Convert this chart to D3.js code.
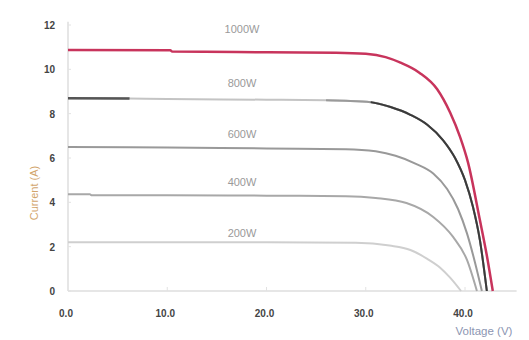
<!DOCTYPE html>
<html>
<head>
<meta charset="utf-8">
<script src="https://cdnjs.cloudflare.com/ajax/libs/d3/7.8.5/d3.min.js"></script>
<style>
  body { margin: 0; background: #fff; }
  .tick-label { font-family: "Liberation Sans Narrow", "Liberation Sans", Arial, sans-serif; font-weight: bold; font-size: 10px; fill: #444; }
  .curve-label { font-family: "Liberation Sans", Arial, sans-serif; font-size: 11px; fill: #9a9a9a; }
</style>
</head>
<body>
<script>
// I-V curves, [voltage, current]
var irradiance = ["1000W", "800W", "600W", "400W", "200W"];

var curve1000 = [[0,10.87],[10.3,10.86],[10.5,10.8],[20,10.77],[27,10.75],[30,10.7],[32,10.55],
  [33.5,10.3],[35.4,9.85],[37.2,9.1],[38.5,8.05],[39.5,6.95],[40.3,5.8],[41.5,3.2],[42.2,1.6],[42.8,0]];
var curve800 = [[0,8.7],[6.2,8.68],[10,8.66],[20,8.63],[26,8.6],[28,8.58],[30.5,8.52],[32.5,8.3],
  [34.5,7.95],[36.2,7.5],[37.8,6.8],[39,6.0],[40,5.0],[40.8,3.8],[41.5,2.3],[42.2,0]];
var curve600 = [[0,6.5],[10,6.47],[20,6.43],[28,6.4],[31,6.3],[33,6.1],[35,5.75],[36.8,5.3],
  [38.2,4.6],[39.3,3.7],[40.2,2.6],[41,1.3],[41.7,0]];
var curve400 = [[0,4.37],[2.2,4.36],[2.4,4.32],[10,4.32],[20,4.3],[28,4.28],[31,4.2],[34.1,3.97],
  [36.8,3.34],[38.8,2.44],[40.2,1.4],[41.2,0]];
var curve200 = [[0,2.2],[10,2.2],[20,2.2],[29,2.18],[32.4,2.05],[34.5,1.85],[36.2,1.45],
  [37.5,1.05],[38.5,0.6],[39.6,0]];

var xTicks = [0, 10, 20, 30, 40];
var yTicks = [0, 2, 4, 6, 8, 10, 12];
// where each curve's label sits (current value)
var labelCurrent = [11.8, 9.4, 7.1, 4.9, 2.6];

window.onload = function(){
  var w = 529;
  var h = 340;

  var x = d3.scaleLinear().domain([0, 40]).range([68, 465]);
  var y = d3.scaleLinear().domain([0, 12]).range([291, 25]);

  var svg = d3.select("body").append("svg")
              .attr("width", w)
              .attr("height", h);

  // axis lines
  svg.append("line")
    .attr("x1", x(0)).attr("x2", x(0))
    .attr("y1", y(12.15)).attr("y2", y(0))
    .attr("stroke", "#dedede").attr("stroke-width", 1.5);
  svg.append("line")
    .attr("x1", x(0)).attr("x2", x(45.2))
    .attr("y1", y(0)).attr("y2", y(0))
    .attr("stroke", "#dedede").attr("stroke-width", 1.5);

  // small ticks
  svg.selectAll(".ytick").data(yTicks).enter()
    .append("line")
    .attr("x1", x(0)).attr("x2", x(0) + 3)
    .attr("y1", function(d){ return y(d); })
    .attr("y2", function(d){ return y(d); })
    .attr("stroke", "#e2e2e2");
  svg.selectAll(".xtick").data(xTicks.slice(1)).enter()
    .append("line")
    .attr("x1", function(d){ return x(d); })
    .attr("x2", function(d){ return x(d); })
    .attr("y1", y(0)).attr("y2", y(0) - 4)
    .attr("stroke", "#e2e2e2");

  // tick labels
  svg.selectAll(".ylab").data(yTicks).enter()
    .append("text")
    .classed("tick-label", true)
    .attr("x", 55)
    .attr("y", function(d){ return y(d) + 4; })
    .attr("text-anchor", "end")
    .text(function(d){ return d; });
  svg.selectAll(".xlab").data(xTicks).enter()
    .append("text")
    .classed("tick-label", true)
    .attr("x", function(d){ return x(d) - 2; })
    .attr("y", 317)
    .attr("text-anchor", "middle")
    .text(function(d){ return d.toFixed(1); });

  // axis titles
  svg.append("text")
    .attr("transform", "translate(38,193) rotate(-90)")
    .attr("text-anchor", "middle")
    .style("font-family", "Liberation Sans, Arial, sans-serif")
    .style("font-size", "11px")
    .style("fill", "#d2a56c")
    .text("Current (A)");
  svg.append("text")
    .attr("x", 484).attr("y", 335)
    .attr("text-anchor", "middle")
    .style("font-family", "Liberation Sans, Arial, sans-serif")
    .style("font-size", "11.5px")
    .style("fill", "#8c95b2")
    .text("Voltage (V)");

  var line = d3.line()
    .x(function(d){ return x(d[0]); })
    .y(function(d){ return y(d[1]); })
    .curve(d3.curveMonotoneX);

  function part(data, v0, v1){
    return data.filter(function(d){ return d[0] >= v0 && d[0] <= v1; });
  }

  // curves, light to dark
  svg.append("path").datum(curve200).attr("d", line)
    .attr("fill", "none").attr("stroke", "#cfcfcf").attr("stroke-width", 2);
  svg.append("path").datum(curve400).attr("d", line)
    .attr("fill", "none").attr("stroke", "#a8a8a8").attr("stroke-width", 2);
  svg.append("path").datum(curve600).attr("d", line)
    .attr("fill", "none").attr("stroke", "#999").attr("stroke-width", 2);

  svg.append("path").datum(curve800).attr("d", line)
    .attr("fill", "none").attr("stroke", "#c4c4c4").attr("stroke-width", 2);
  svg.append("path").datum(part(curve800, 26, 45)).attr("d", line)
    .attr("fill", "none").attr("stroke", "#9a9a9a").attr("stroke-width", 2);
  svg.append("path").datum(part(curve800, 30.5, 45)).attr("d", line)
    .attr("fill", "none").attr("stroke", "#3a3a3a").attr("stroke-width", 2);
  svg.append("path").datum(part(curve800, 0, 6.2)).attr("d", line)
    .attr("fill", "none").attr("stroke", "#555").attr("stroke-width", 2.5);

  svg.append("path").datum(curve1000).attr("d", line)
    .attr("fill", "none").attr("stroke", "#c8345c").attr("stroke-width", 2.5);

  // curve labels
  svg.selectAll(".curve-label").data(irradiance).enter()
    .append("text")
    .classed("curve-label", true)
    .attr("x", 242)
    .attr("y", function(d, i){ return y(labelCurrent[i]) + 4; })
    .attr("text-anchor", "middle")
    .text(function(d){ return d; });
};
</script>
</body>
</html>
